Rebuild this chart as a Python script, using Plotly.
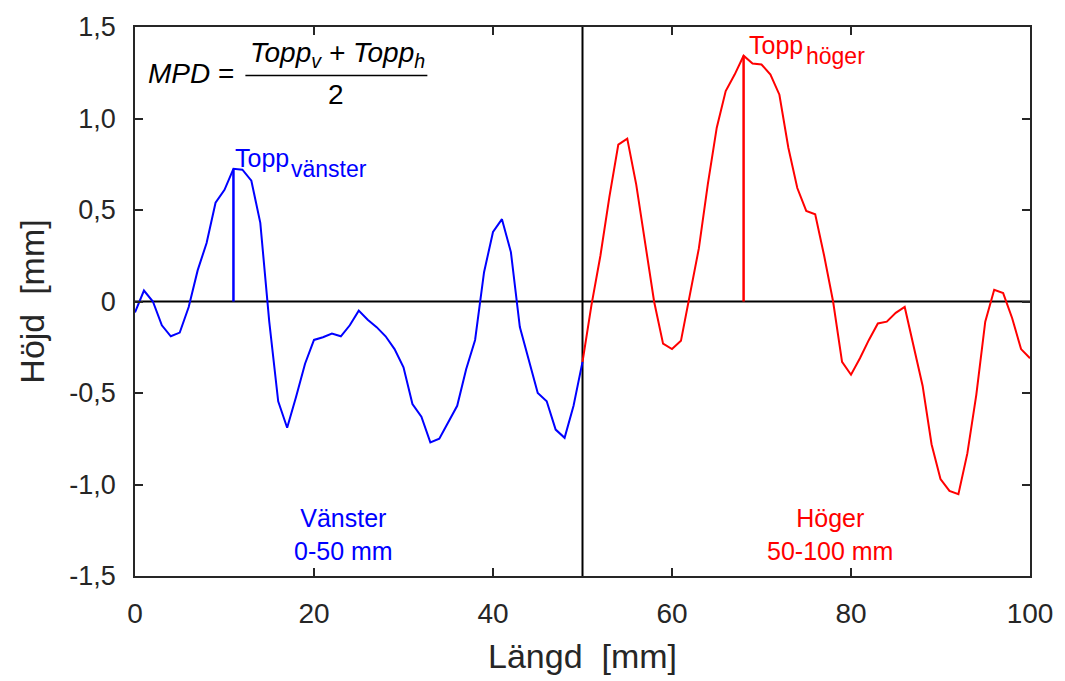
import plotly.graph_objects as go

# ---- data ----
x_left = list(range(0, 51))
y_left = [-0.06, 0.06, 0.0, -0.13, -0.19, -0.17, -0.03, 0.17, 0.32, 0.54,
          0.61, 0.725, 0.72, 0.66, 0.43, -0.11, -0.545, -0.69, -0.52, -0.34,
          -0.21, -0.195, -0.175, -0.19, -0.13, -0.05, -0.10, -0.14, -0.19, -0.26,
          -0.36, -0.56, -0.63, -0.77, -0.75, -0.66, -0.57, -0.37, -0.21, 0.16,
          0.38, 0.45, 0.27, -0.14, -0.32, -0.50, -0.545, -0.70, -0.745, -0.57,
          -0.33]
x_right = list(range(50, 101))
y_right = [-0.33, -0.02, 0.25, 0.57, 0.857, 0.89, 0.64, 0.32, 0.0, -0.23,
           -0.26, -0.215, 0.03, 0.29, 0.64, 0.95, 1.15, 1.24, 1.343, 1.30,
           1.295, 1.24, 1.13, 0.84, 0.62, 0.495, 0.477, 0.25, 0.0, -0.33,
           -0.40, -0.31, -0.21, -0.12, -0.11, -0.062, -0.03, -0.25, -0.46, -0.78,
           -0.97, -1.035, -1.053, -0.83, -0.51, -0.11, 0.064, 0.046, -0.09, -0.26,
           -0.31]
y_tickvals = [1.5, 1.0, 0.5, 0, -0.5, -1.0, -1.5]
y_ticktext = ["1,5", "1,0", "0,5", "0", "-0,5", "-1,0", "-1,5"]
x_tickvals = [0, 20, 40, 60, 80, 100]
x_ticktext = ["0", "20", "40", "60", "80", "100"]

BLUE = "#0000FF"
RED = "#FF0000"
AX = "#262626"
FONT = "Liberation Sans, Arial, sans-serif"

iL = max(range(len(y_left)), key=lambda i: y_left[i])
iR = max(range(len(y_right)), key=lambda i: y_right[i])
pkL_x, pkL_y = x_left[iL], y_left[iL]
pkR_x, pkR_y = x_right[iR], y_right[iR]

fig = go.Figure()
# zero line
fig.add_trace(go.Scatter(x=[0, 100], y=[0, 0], mode="lines",
                         line=dict(color="black", width=2), hoverinfo="skip"))
# divider
fig.add_trace(go.Scatter(x=[50, 50], y=[-1.5, 1.5], mode="lines",
                         line=dict(color="black", width=2), hoverinfo="skip"))
fig.add_trace(go.Scatter(x=x_left, y=y_left, mode="lines",
                         line=dict(color=BLUE, width=2)))
fig.add_trace(go.Scatter(x=x_right, y=y_right, mode="lines",
                         line=dict(color=RED, width=2)))
# peak stems
fig.add_trace(go.Scatter(x=[pkL_x, pkL_x], y=[0, pkL_y], mode="lines",
                         line=dict(color=BLUE, width=2.5)))
fig.add_trace(go.Scatter(x=[pkR_x, pkR_x], y=[0, pkR_y], mode="lines",
                         line=dict(color=RED, width=2.5)))

ann = []
# Topp labels
ann.append(dict(x=pkL_x, y=pkL_y, xref="x", yref="y", text="Topp",
                xanchor="left", yanchor="bottom", xshift=0, yshift=-5,
                showarrow=False, font=dict(family=FONT, size=25, color=BLUE)))
ann.append(dict(x=pkL_x, y=pkL_y, xref="x", yref="y", text="vänster",
                xanchor="left", yanchor="bottom", xshift=56, yshift=-15,
                showarrow=False, font=dict(family=FONT, size=23, color=BLUE)))
ann.append(dict(x=pkR_x, y=pkR_y, xref="x", yref="y", text="Topp",
                xanchor="left", yanchor="bottom", xshift=3, yshift=-5,
                showarrow=False, font=dict(family=FONT, size=25, color=RED)))
ann.append(dict(x=pkR_x, y=pkR_y, xref="x", yref="y", text="höger",
                xanchor="left", yanchor="bottom", xshift=60, yshift=-15,
                showarrow=False, font=dict(family=FONT, size=23, color=RED)))
# region labels
ann.append(dict(x=23.3, y=-1.275, xref="x", yref="y", text="Vänster<br>0-50 mm",
                showarrow=False, align="center",
                font=dict(family=FONT, size=25, color=BLUE)))
ann.append(dict(x=77.6, y=-1.275, xref="x", yref="y", text="Höger<br>50-100 mm",
                showarrow=False, align="center",
                font=dict(family=FONT, size=25, color=RED)))
# MPD equation (paper coords)
def px2paper(px, py):
    return (px - 135) / 900.0, (580 - py) / 555.0

mx, my = px2paper(146, 72)
ann.append(dict(x=mx, y=my, xref="paper", yref="paper", text="<i>MPD</i> =",
                xanchor="left", yanchor="middle", showarrow=False,
                font=dict(family=FONT, size=28, color="black")))
nx, ny = px2paper(339, 53)
ann.append(dict(x=nx, y=ny, xref="paper", yref="paper",
                text="<i>Topp<sub>v</sub> + Topp<sub>h</sub></i>",
                xanchor="center", yanchor="middle", showarrow=False,
                font=dict(family=FONT, size=28, color="black")))
dx, dy = px2paper(337, 93)
ann.append(dict(x=dx, y=dy, xref="paper", yref="paper", text="2",
                xanchor="center", yanchor="middle", showarrow=False,
                font=dict(family=FONT, size=28, color="black")))
fx0, fy = px2paper(246, 74)
fx1, _ = px2paper(429, 74)

fig.update_layout(
    width=1065, height=681,
    margin=dict(l=135, r=25, t=25, b=101),
    paper_bgcolor="white", plot_bgcolor="white",
    showlegend=False,
    annotations=ann,
    shapes=[dict(type="line", xref="paper", yref="paper", x0=fx0, x1=fx1,
                 y0=fy, y1=fy, line=dict(color="black", width=1.5))],
    xaxis=dict(range=[0, 100], tickvals=x_tickvals, ticktext=x_ticktext,
               showgrid=False, zeroline=False, showline=True, linecolor=AX,
               linewidth=1.5, mirror="ticks", ticks="inside", ticklen=8,
               tickcolor=AX, tickwidth=1.5,
               tickfont=dict(family=FONT, size=28, color=AX),
               ticklabelstandoff=12,
               title=dict(text="Längd  [mm]", standoff=16,
                          font=dict(family=FONT, size=34, color=AX))),
    yaxis=dict(range=[-1.5, 1.5], tickvals=y_tickvals, ticktext=y_ticktext,
               showgrid=False, zeroline=False, showline=True, linecolor=AX,
               linewidth=1.5, mirror="ticks", ticks="inside", ticklen=8,
               tickcolor=AX, tickwidth=1.5,
               tickfont=dict(family=FONT, size=27, color=AX),
               ticklabelstandoff=12,
               title=dict(text="Höjd  [mm]", standoff=14,
                          font=dict(family=FONT, size=34, color=AX))),
)

fig.write_html("out.html")
